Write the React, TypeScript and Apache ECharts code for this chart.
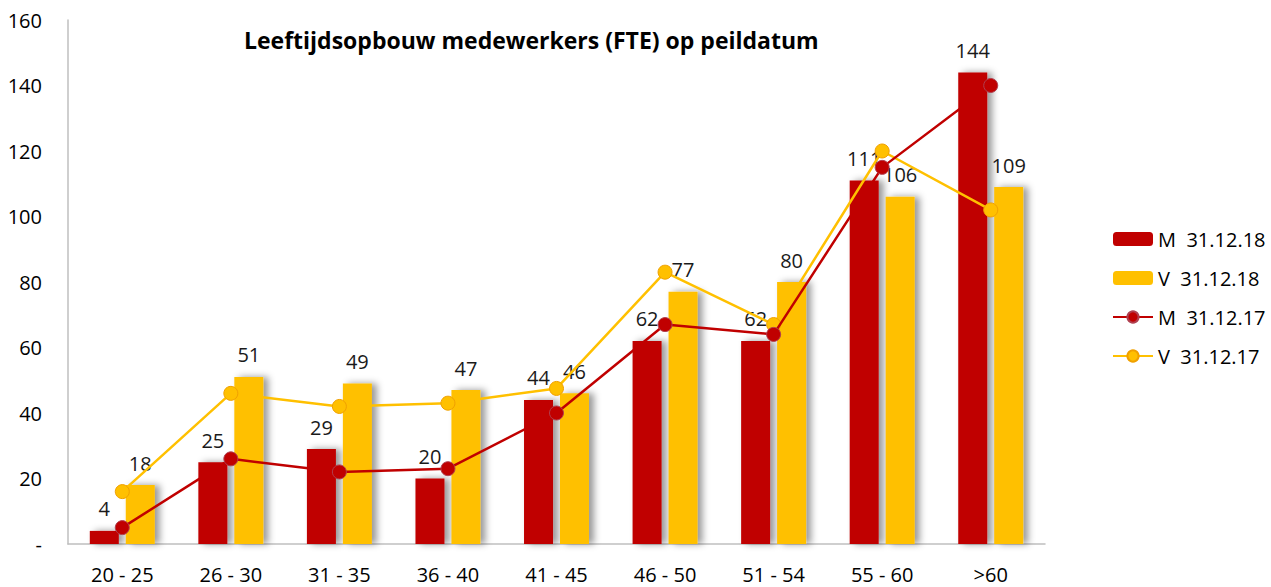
import React, { useEffect, useRef } from "react";
import * as echarts from "echarts";

const categories = ["20 - 25", "26 - 30", "31 - 35", "36 - 40", "41 - 45", "46 - 50", "51 - 54", "55 - 60", ">60"];
const m18 = [4, 25, 29, 20, 44, 62, 62, 111, 144];
const v18 = [18, 51, 49, 47, 46, 77, 80, 106, 109];
const m17 = [5, 26, 22, 23, 40, 67, 64, 115, 140];
const v17 = [16, 46, 42, 43, 47.5, 83, 67, 120, 102];
const titleText = "Leeftijdsopbouw medewerkers (FTE) op peildatum";
const names = ["M  31.12.18", "V  31.12.18", "M  31.12.17", "V  31.12.17"];

const RED = "#C00000";
const YEL = "#FFC000";
const FONT = "'Open Sans', 'Noto Sans', sans-serif";

export default function App() {
  const ref = useRef<HTMLDivElement>(null);
  useEffect(() => {
    document.body.style.margin = "0";
    const chart = echarts.init(ref.current!, undefined, { renderer: "svg" });
    const barShadow = {
      shadowColor: "rgba(0,0,0,0.4)",
      shadowBlur: 7,
      shadowOffsetX: 5,
      shadowOffsetY: 0,
    };
    const label = {
      show: true,
      position: "top" as const,
      distance: 12,
      color: "#1a1a1a",
      fontSize: 20,
      fontFamily: FONT,
    };
    chart.setOption({
      animation: false,
      backgroundColor: "#ffffff",
      textStyle: { fontFamily: FONT },
      title: {
        text: titleText,
        left: 239,
        top: 23,
        textStyle: { fontSize: 23, fontWeight: "bold", color: "#000", fontFamily: FONT },
      },
      legend: {
        orient: "vertical",
        left: 1107,
        top: 224,
        itemWidth: 40,
        itemHeight: 14,
        itemGap: 19,
        data: names,
        textStyle: { fontSize: 20, color: "#000", fontFamily: FONT },
      },
      grid: { left: 68, right: 226, top: 20, bottom: 43, containLabel: false },
      xAxis: {
        type: "category",
        data: categories,
        axisLine: { show: true, lineStyle: { color: "#BFBFBF", width: 1.5 } },
        axisTick: { show: false },
        axisLabel: { fontSize: 20, color: "#000", margin: 20, fontFamily: FONT },
      },
      yAxis: {
        type: "value",
        min: 0,
        max: 160,
        interval: 20,
        axisLine: { show: true, lineStyle: { color: "#BFBFBF", width: 1.5 } },
        axisTick: { show: false },
        splitLine: { show: false },
        axisLabel: {
          fontSize: 20,
          color: "#000",
          margin: 26,
          fontFamily: FONT,
          formatter: (v: number) => (v === 0 ? "-" : String(v)),
        },
      },
      series: [
        {
          name: names[0],
          type: "bar",
          data: m18,
          barWidth: 29,
          barGap: "24%",
          itemStyle: { color: RED, ...barShadow },
          label,
          z: 2,
        },
        {
          name: names[1],
          type: "bar",
          data: v18,
          barWidth: 29,
          itemStyle: { color: YEL, ...barShadow },
          label,
          z: 2,
        },
        {
          name: names[2],
          type: "line",
          data: m17,
          symbol: "circle",
          symbolSize: 14,
          lineStyle: { color: RED, width: 2.5 },
          itemStyle: { color: RED, borderColor: "#B04050", borderWidth: 1 },
          z: 5,
        },
        {
          name: names[3],
          type: "line",
          data: v17,
          symbol: "circle",
          symbolSize: 14,
          lineStyle: { color: YEL, width: 2.5 },
          itemStyle: { color: YEL, borderColor: "#F0A000", borderWidth: 1 },
          z: 4,
        },
      ],
    });
    return () => chart.dispose();
  }, []);
  return <div ref={ref} style={{ width: 1271, height: 587 }} />;
}
